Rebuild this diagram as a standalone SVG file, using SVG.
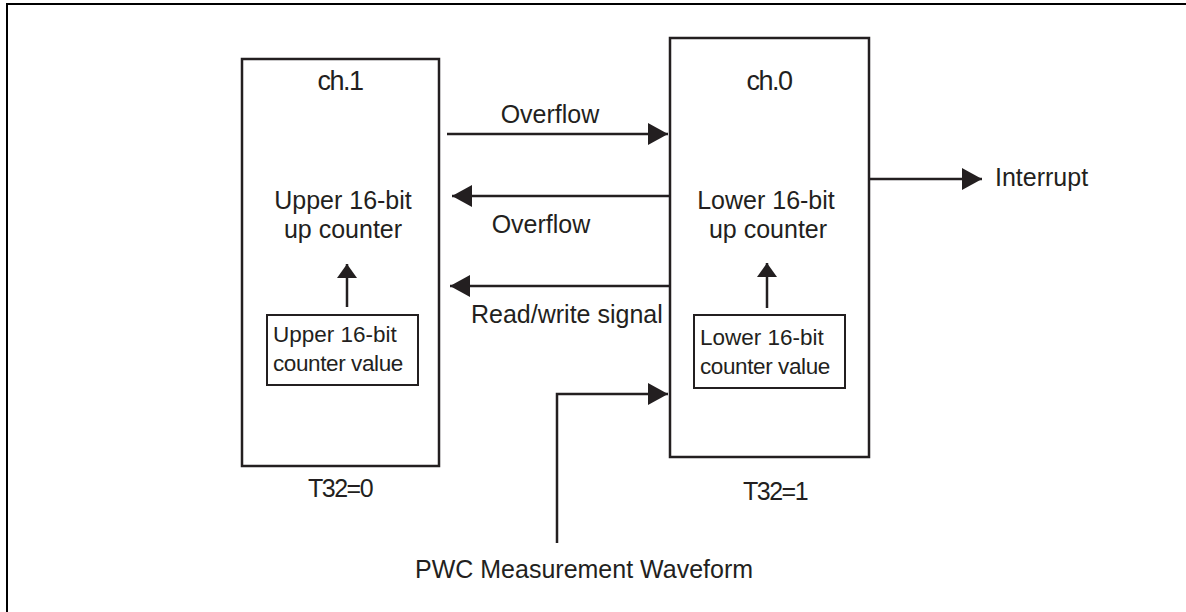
<svg xmlns="http://www.w3.org/2000/svg" width="1186" height="612" viewBox="0 0 1186 612">
<defs>
<marker id="ah" viewBox="0 0 20 22" refX="20" refY="11" markerWidth="20" markerHeight="22" markerUnits="userSpaceOnUse" orient="auto">
<path d="M0,0 L20,11 L0,22 Z" fill="#231f20"/>
</marker>
<marker id="ahs" viewBox="0 0 14 20" refX="14" refY="10" markerWidth="14" markerHeight="20" markerUnits="userSpaceOnUse" orient="auto">
<path d="M0,0 L14,10 L0,20 Z" fill="#231f20"/>
</marker>
</defs>
<style>
.box{fill:#fff;stroke:#231f20;stroke-width:2.5}
.sbox{fill:#fff;stroke:#231f20;stroke-width:2}
.ln{fill:none;stroke:#231f20;stroke-width:2.5}
.t{font-family:"Liberation Sans",Arial,sans-serif;font-size:25px;fill:#231f20}
.h{font-family:"Liberation Sans",Arial,sans-serif;font-size:27px;fill:#231f20}
.s{font-family:"Liberation Sans",Arial,sans-serif;font-size:22.5px;fill:#231f20}
.c{text-anchor:middle}
</style>
<rect width="1186" height="612" fill="#fff"/>
<rect x="7" y="4" width="1200" height="700" fill="none" stroke="#000" stroke-width="2"/>
<g id="ch1">
<rect class="box" x="242" y="59" width="197" height="407"/>
<text class="h c" x="340" y="90" letter-spacing="-1.5">ch.1</text>
<text class="t c" x="343" y="209">Upper 16-bit</text>
<text class="t c" x="343" y="238">up counter</text>
<text class="t c" x="340" y="497" letter-spacing="-1.5">T32=0</text>
</g>
<g id="ch1val">
<rect class="sbox" x="267" y="315" width="151" height="70"/>
<text class="s" x="273" y="342">Upper 16-bit</text>
<text class="s" x="273" y="371" letter-spacing="-0.4">counter value</text>
</g>
<g id="ch0">
<rect class="box" x="670" y="38" width="199" height="419"/>
<text class="h c" x="769" y="90" letter-spacing="-1.5">ch.0</text>
<text class="t c" x="766" y="209">Lower 16-bit</text>
<text class="t c" x="768" y="238">up counter</text>
<text class="t c" x="775" y="500" letter-spacing="-1.5">T32=1</text>
</g>
<g id="ch0val">
<rect class="sbox" x="694" y="315" width="151" height="73"/>
<text class="s" x="700" y="345">Lower 16-bit</text>
<text class="s" x="700" y="374" letter-spacing="-0.4">counter value</text>
</g>
<g id="labels">
<text class="t c" x="550" y="123">Overflow</text>
<text class="t c" x="541" y="233">Overflow</text>
<text class="t" x="471" y="323">Read/write signal</text>
<text class="t" x="995" y="186">Interrupt</text>
<text class="t" x="415" y="578">PWC Measurement Waveform</text>
</g>
<g id="connectors">
<line class="ln" x1="447" y1="134" x2="668" y2="134" marker-end="url(#ah)"/>
<line class="ln" x1="670" y1="196" x2="452" y2="196" marker-end="url(#ah)"/>
<line class="ln" x1="670" y1="286" x2="450" y2="286" marker-end="url(#ah)"/>
<line class="ln" x1="869" y1="179" x2="982" y2="179" marker-end="url(#ah)"/>
<line class="ln" x1="347" y1="307" x2="347" y2="264" marker-end="url(#ahs)"/>
<line class="ln" x1="767" y1="308" x2="767" y2="263" marker-end="url(#ahs)"/>
<polyline class="ln" points="557,543 557,394 668,394" marker-end="url(#ah)"/>
</g>
</svg>
